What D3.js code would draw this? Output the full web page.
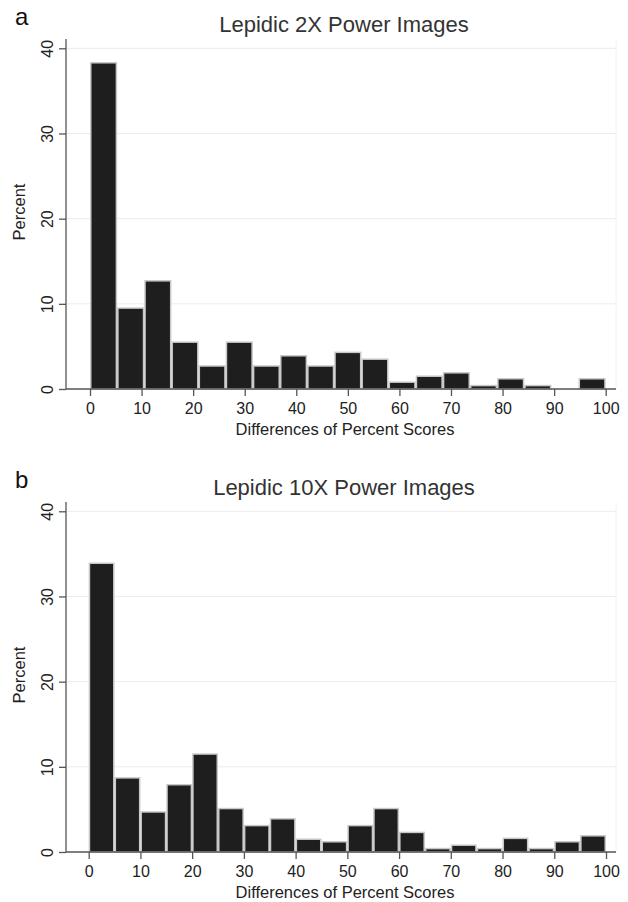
<!DOCTYPE html>
<html>
<head>
<meta charset="utf-8">
<script src="https://cdn.jsdelivr.net/npm/d3@7"></script>
<style>
  html, body { margin: 0; padding: 0; background: #fff; }
  svg { display: block; font-family: "Liberation Sans", Arial, sans-serif; }
</style>
</head>
<body>
<svg id="chart" width="628" height="902"></svg>
<script>
// ---- Data ----
const panelLetters = ["a", "b"];
const panelTitles = ["Lepidic 2X Power Images", "Lepidic 10X Power Images"];
const xLabel = "Differences of Percent Scores";
const yLabel = "Percent";
const xTicks = [0, 10, 20, 30, 40, 50, 60, 70, 80, 90, 100];
const yTicks = [0, 10, 20, 30, 40];
// panel a: 19 bins over 0..100
const binsA = 19;
const valuesA = [38.3, 9.5, 12.7, 5.5, 2.7, 5.5, 2.7, 3.9, 2.7, 4.3, 3.5, 0.8, 1.5, 1.9, 0.4, 1.2, 0.4, 0, 1.2];
// panel b: 20 bins over 0..100
const binsB = 20;
const valuesB = [33.9, 8.7, 4.7, 7.9, 11.5, 5.1, 3.1, 3.9, 1.5, 1.2, 3.1, 5.1, 2.3, 0.4, 0.8, 0.4, 1.6, 0.4, 1.2, 1.9];

const svg = d3.select("#chart");

function drawPanel(idx, values, nBins, oy, x0px, x100px) {
  const g = svg.append("g").attr("transform", `translate(0,${oy})`);
  const plotLeft = 66, plotRight = 616, yTopAxis = 39;
  const x = d3.scaleLinear().domain([0, 100]).range([x0px, x100px]);
  const y = d3.scaleLinear().domain([0, 40]).range([389, 48.3]);

  // grid lines
  g.selectAll(".grid").data(yTicks.filter(d => d > 0)).join("line")
    .attr("x1", plotLeft).attr("x2", plotRight)
    .attr("y1", d => y(d)).attr("y2", d => y(d))
    .attr("stroke", "#ececec").attr("stroke-width", 1);
  // faint right border
  g.append("line").attr("x1", plotRight).attr("x2", plotRight)
    .attr("y1", yTopAxis).attr("y2", y(0))
    .attr("stroke", "#f2f2f2").attr("stroke-width", 1);

  // bars
  const w = 100 / nBins;
  const bins = values.map((v, i) => ({ x0: i * w, x1: (i + 1) * w, v }));
  g.selectAll(".bar").data(bins.filter(d => d.v > 0)).join("rect")
    .attr("x", d => x(d.x0) + 0.75)
    .attr("width", d => x(d.x1) - x(d.x0) - 1.5)
    .attr("y", d => y(d.v))
    .attr("height", d => y(0) - y(d.v))
    .attr("fill", "#1e1e1e")
    .attr("stroke", "#c8c8c8").attr("stroke-width", 1.5);

  // x axis
  const xAxis = d3.axisBottom(x).tickValues(xTicks).tickSize(7).tickPadding(7);
  const gx = g.append("g").attr("transform", `translate(0,${y(0)})`).call(xAxis);
  gx.select(".domain").remove();
  gx.selectAll(".tick line").attr("stroke", "#555").attr("stroke-width", 1.3);
  gx.selectAll(".tick text").attr("fill", "#222").style("font-size", "16px");
  g.append("line").attr("x1", plotLeft).attr("x2", plotRight)
    .attr("y1", y(0)).attr("y2", y(0)).attr("stroke", "#555").attr("stroke-width", 1.3);

  // y axis
  const yAxis = d3.axisLeft(y).tickValues(yTicks).tickSize(7).tickPadding(0);
  const gy = g.append("g").attr("transform", `translate(${plotLeft},0)`).call(yAxis);
  gy.select(".domain").remove();
  gy.selectAll(".tick line").attr("stroke", "#555").attr("stroke-width", 1.3);
  gy.selectAll(".tick text")
    .attr("fill", "#222").style("font-size", "16px")
    .attr("x", 0).attr("dy", null)
    .attr("text-anchor", "middle")
    .attr("transform", "translate(-13,0) rotate(-90)");
  g.append("line").attr("x1", plotLeft).attr("x2", plotLeft)
    .attr("y1", yTopAxis).attr("y2", y(0)).attr("stroke", "#555").attr("stroke-width", 1.3);

  // labels
  g.append("text").text(panelLetters[idx])
    .attr("x", 15).attr("y", 25).attr("fill", "#111").style("font-size", "24px");
  g.append("text").text(panelTitles[idx])
    .attr("x", 344).attr("y", 31.5).attr("text-anchor", "middle")
    .attr("fill", "#333").style("font-size", "22px");
  g.append("text").text(xLabel)
    .attr("x", 345).attr("y", 435).attr("text-anchor", "middle")
    .attr("fill", "#222").style("font-size", "16.5px");
  g.append("text").text(yLabel)
    .attr("transform", "translate(25,212) rotate(-90)")
    .attr("text-anchor", "middle")
    .attr("fill", "#222").style("font-size", "16.5px");
}

drawPanel(0, valuesA, binsA, 0, 90, 605.7);
drawPanel(1, valuesB, binsB, 463, 88.7 , 606);
</script>
</body>
</html>
